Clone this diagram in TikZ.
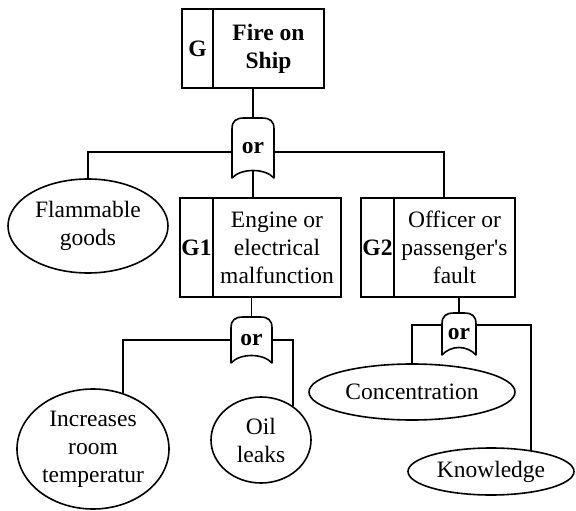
\documentclass[tikz,border=0pt]{standalone}
\usepackage{fontspec}
\setmainfont{Liberation Serif}
\usetikzlibrary{shapes.geometric,calc}
\tikzset{
  every path/.style={line width=1.6pt},
  txt/.style={font=\fontsize{23.5}{28}\selectfont, align=center},
  cell/.style={draw, rectangle, inner sep=0pt, outer sep=0pt, line width=1.6pt, txt},
  lab/.style={cell, font=\fontsize{23.5}{28}\selectfont\bfseries},
  ev/.style={draw, ellipse, inner sep=0pt, line width=1.6pt, txt},
  gatebox/.style={rectangle, inner sep=0pt, outer sep=0pt, font=\fontsize{23.5}{28}\selectfont\bfseries},
  wire/.style={line width=1.6pt}
}
\newcommand\gateoutline[1]{%
  \draw[wire, line join=round] (#1.south west) -- ($(#1.north west)+(0,11)$)
    .. controls ($(#1.north west)+(0,3)$) and ($(#1.north west)+(4,0)$) .. ($(#1.north west)+(12,0)$)
    -- ($(#1.north east)+(-12,0)$)
    .. controls ($(#1.north east)+(-4,0)$) and ($(#1.north east)+(0,3)$) .. ($(#1.north east)+(0,11)$)
    -- (#1.south east)
    .. controls ($(#1.south east)+(-9,-10)$) and ($(#1.south west)+(9,-10)$) .. (#1.south west) -- cycle;
  \coordinate (#1-out) at ($(#1.south)+(0,-7.5)$);}
\begin{document}
\begin{tikzpicture}[x=1pt,y=-1pt]
\useasboundingbox (0,0) rectangle (576,511);
% top event
\node[lab, minimum width=31pt, minimum height=79pt, anchor=north west] (gl) at (182,9) {G};
\node[cell, font=\fontsize{23.5}{28}\selectfont\bfseries, minimum width=111pt, minimum height=79pt, anchor=north west] (gt) at (213,9) {Fire on\\Ship};
% gate 0
\node[gatebox, minimum width=42pt, minimum height=60pt] (g0) at (253,148) {or};
\gateoutline{g0}
% intermediate G1
\node[lab, minimum width=33pt, minimum height=99pt, anchor=north west] (g1l) at (180,198) {G1};
\node[cell, minimum width=128pt, minimum height=99pt, anchor=north west] (g1t) at (213,198) {Engine or\\electrical\\malfunction};
% intermediate G2
\node[lab, minimum width=33pt, minimum height=99pt, anchor=north west] (g2l) at (361,198) {G2};
\node[cell, minimum width=121pt, minimum height=99pt, anchor=north west] (g2t) at (394,198) {Officer or\\passenger\textquotesingle s\\fault};
% gates 1 and 2
\node[gatebox, minimum width=41pt, minimum height=46pt] (g1) at (251.5,340) {or};
\gateoutline{g1}
\node[gatebox, minimum width=34pt, minimum height=42pt] (g2) at (459,334) {or};
\gateoutline{g2}
% basic events
\node[ev, minimum width=160pt, minimum height=94pt] (flam) at (88,226) {Flammable\\goods};
\node[ev, minimum width=152pt, minimum height=120pt] (incr) at (93,449) {Increases\\room\\temperatur};
\node[ev, minimum width=100pt, minimum height=86pt] (oil) at (261,440) {Oil\\leaks};
\node[ev, minimum width=206pt, minimum height=56pt] (conc) at (412,392) {Concentration};
\node[ev, minimum width=166pt, minimum height=47pt] (know) at (491,471.5) {Knowledge};
% connectors
\draw[wire] (g0.north) -- (g0.north |- gt.south);
\draw[wire] (g0-out) -- (g0-out |- g1t.north);
\draw[wire] ($(g0.west)+(0,4)$) -| (flam.north);
\draw[wire] ($(g0.east)+(0,4)$) -| ($(g2t.north west)+(50,0)$);
\draw[wire] (g1.north) -- (g1.north |- g1t.south);
\draw[wire] (g1.west) -| (incr.62);
\draw[wire] (g1.east) -| (oil.47);
\draw[wire] (g2.north) -- (g2.north |- g2t.south);
\draw[wire] ($(g2.west)+(0,-9)$) -| (conc.north);
\draw[wire] ($(g2.east)+(0,-9)$) -| (know.28);
\end{tikzpicture}
\end{document}
